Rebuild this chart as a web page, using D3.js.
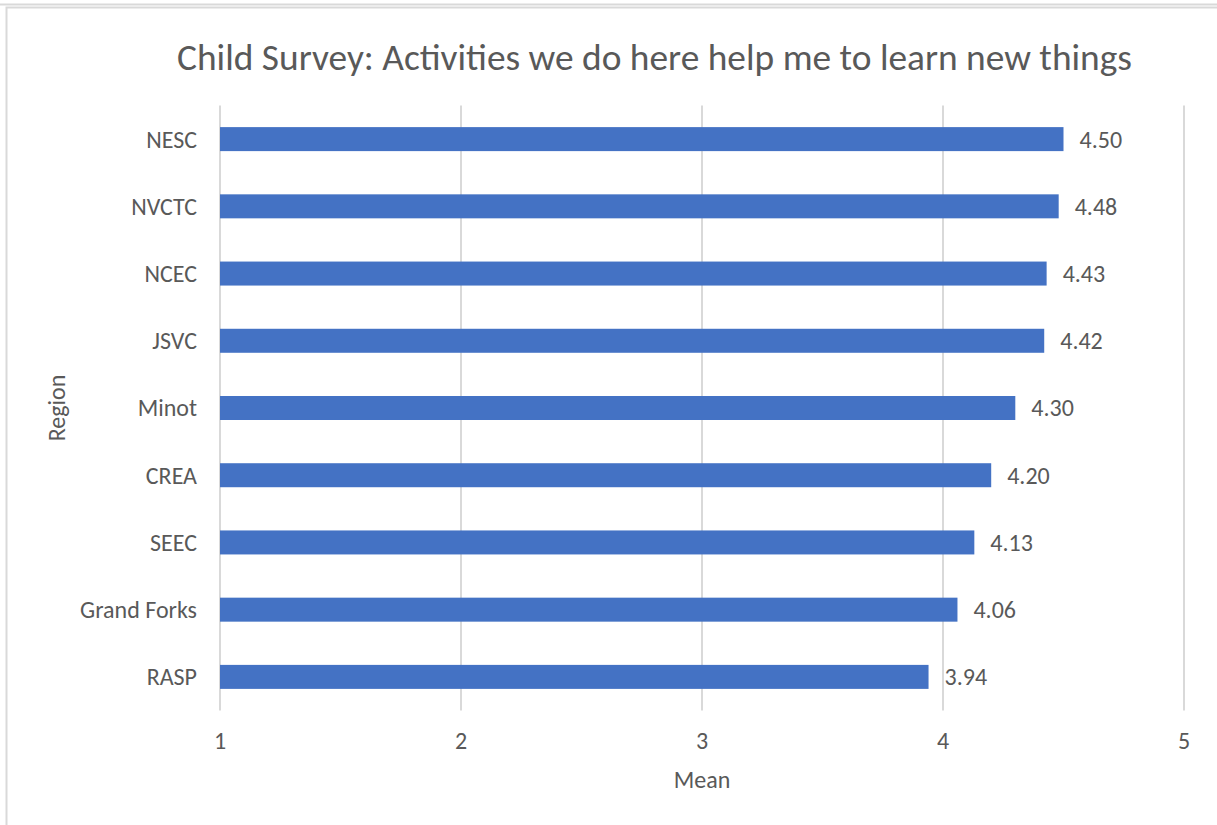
<!DOCTYPE html>
<html>
<head>
<meta charset="utf-8">
<script src="https://cdn.jsdelivr.net/npm/d3@7"></script>
<style>
  html, body { margin: 0; padding: 0; background: #ffffff; }
  svg { display: block; }
  text { font-family: Carlito, Calibri, Lato, "Open Sans", sans-serif; fill: #595959; }
</style>
</head>
<body>
<svg id="chart" width="1217" height="825"></svg>
<script>
// Regions, listed top to bottom, and their mean scores
const regions = ["NESC", "NVCTC", "NCEC", "JSVC", "Minot", "CREA", "SEEC", "Grand Forks", "RASP"];
const means   = [4.50, 4.48, 4.43, 4.42, 4.30, 4.20, 4.13, 4.06, 3.94];
const xTicks  = [1, 2, 3, 4, 5];

const titleText = "Child Survey: Activities we do here help me to learn new things";
const xTitle = "Mean";
const yTitle = "Region";

const svg = d3.select("#chart");
const W = 1217, H = 825;

// outer frame lines
svg.append("line").attr("x1", 0).attr("x2", W).attr("y1", 4.5).attr("y2", 4.5)
  .attr("stroke", "#d9d9d9").attr("stroke-width", 2);
svg.append("rect").attr("x", 6.5).attr("y", 7.5).attr("width", W + 20).attr("height", H + 20)
  .attr("fill", "none").attr("stroke", "#d9d9d9").attr("stroke-width", 2);

const plot = { left: 220, right: 1184, top: 105.5, bottom: 710.5 };

const x = d3.scaleLinear().domain([1, 5]).range([plot.left, plot.right]);
const y = d3.scaleBand().domain(regions).range([plot.top, plot.bottom]).paddingInner(0.643).paddingOuter(0.3215);

// vertical gridlines
svg.append("g").selectAll("line").data(xTicks).join("line")
  .attr("x1", d => x(d)).attr("x2", d => x(d))
  .attr("y1", plot.top).attr("y2", plot.bottom)
  .attr("stroke", "#d9d9d9").attr("stroke-width", 2);

// bars
svg.append("g").selectAll("rect").data(regions).join("rect")
  .attr("x", x(1))
  .attr("y", d => y(d))
  .attr("width", (d, i) => x(means[i]) - x(1))
  .attr("height", y.bandwidth())
  .attr("fill", "#4472c4");

// value labels
svg.append("g").selectAll("text").data(regions).join("text")
  .attr("x", (d, i) => x(means[i]) + 16)
  .attr("y", d => y(d) + y.bandwidth() / 2)
  .attr("dy", "0.35em")
  .attr("font-size", 24)
  .text((d, i) => means[i].toFixed(2));

// category axis labels
svg.append("g").selectAll("text").data(regions).join("text")
  .attr("x", 197)
  .attr("y", d => y(d) + y.bandwidth() / 2)
  .attr("dy", "0.35em")
  .attr("text-anchor", "end")
  .attr("font-size", 24)
  .text(d => d);

// value axis tick labels
svg.append("g").selectAll("text").data(xTicks).join("text")
  .attr("x", d => x(d))
  .attr("y", 749)
  .attr("text-anchor", "middle")
  .attr("font-size", 24)
  .text(d => d);

// axis titles
svg.append("text").attr("x", (plot.left + plot.right) / 2).attr("y", 788)
  .attr("text-anchor", "middle").attr("font-size", 24).text(xTitle);
svg.append("text")
  .attr("transform", `translate(65, ${(plot.top + plot.bottom) / 2}) rotate(-90)`)
  .attr("text-anchor", "middle").attr("font-size", 24).text(yTitle);

// chart title
svg.append("text").attr("x", 654.5).attr("y", 70)
  .attr("text-anchor", "middle").attr("font-size", 37.4).text(titleText);
</script>
</body>
</html>
